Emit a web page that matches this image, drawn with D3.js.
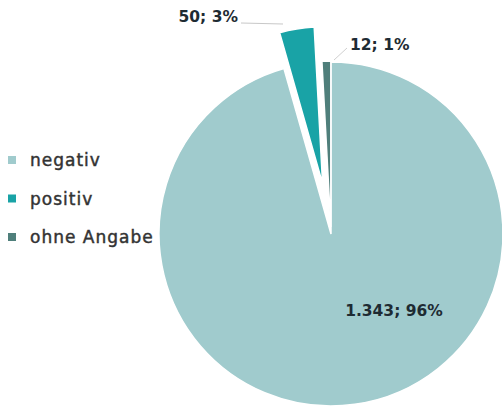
<!DOCTYPE html>
<html>
<head>
<meta charset="utf-8">
<script src="https://cdn.jsdelivr.net/npm/d3@7"></script>
<style>
  body { margin: 0; background: #fff; }
  svg { display: block; }
</style>
</head>
<body>
<div id="plot"></div>
<script>
// data
const categories = ["negativ", "positiv", "ohne Angabe"];
const values = [1343, 50, 12];
const labels = ["1.343; 96%", "50; 3%", "12; 1%"];
const colors = ["#a0cbcd", "#19a3a6", "#4f7f7b"];

const width = 502, height = 408;
const cx = 331, cy = 234;

// per slice look (explode distance, radius)
const explode = [0, 51, 7];
const radius = [172, 157, 166];

const svg = d3.select("#plot")
    .append("svg")
    .attr("width", width)
    .attr("height", height)
    .attr("viewBox", `0 0 ${width} ${height}`);

const pie = d3.pie().sort(null).value(d => d);
const arcs = pie(values);

const pieG = svg.append("g")
    .attr("transform", `translate(${cx},${cy})`);

pieG.selectAll("path")
    .data(arcs)
    .join("path")
    .attr("fill", (d, i) => colors[i])
    .attr("stroke", "#fff")
    .attr("stroke-width", 1.5)
    .attr("transform", (d, i) => {
        const a = (d.startAngle + d.endAngle) / 2;
        return `translate(${Math.sin(a) * explode[i]},${-Math.cos(a) * explode[i]})`;
    })
    .attr("d", (d, i) => d3.arc().innerRadius(0).outerRadius(radius[i])(d));

// data labels
const labelPos = [
    {x: 63, y: 77, anchor: "middle"},
    {x: -93, y: -217, anchor: "end"},
    {x: 19, y: -189, anchor: "start"}
];

pieG.selectAll("text.lbl")
    .data(arcs)
    .join("text")
    .attr("class", "lbl")
    .attr("x", (d, i) => labelPos[i].x)
    .attr("y", (d, i) => labelPos[i].y)
    .attr("text-anchor", (d, i) => labelPos[i].anchor)
    .attr("dominant-baseline", "central")
    .attr("font-family", "DejaVu Sans, sans-serif")
    .attr("font-size", 15.5)
    .attr("font-weight", 700)
    .attr("fill", "#1e2b33")
    .text((d, i) => labels[i]);

// leader lines
pieG.append("line")
    .attr("x1", -90).attr("y1", -211)
    .attr("x2", -48).attr("y2", -210)
    .attr("stroke", "#c8c8c8").attr("stroke-width", 1);
pieG.append("line")
    .attr("x1", 16).attr("y1", -186)
    .attr("x2", 3).attr("y2", -174)
    .attr("stroke", "#d0d0d0").attr("stroke-width", 1);

// legend
const legend = svg.append("g")
    .attr("transform", "translate(8,160)");

const item = legend.selectAll("g")
    .data(categories)
    .join("g")
    .attr("transform", (d, i) => `translate(0,${i * 38.5})`);

item.append("rect")
    .attr("x", 0).attr("y", -4)
    .attr("width", 8).attr("height", 8)
    .attr("fill", (d, i) => colors[i]);

item.append("text")
    .attr("x", 22)
    .attr("y", 0)
    .attr("dominant-baseline", "central")
    .attr("font-family", "DejaVu Sans, sans-serif")
    .attr("font-size", 17)
    .attr("letter-spacing", 1)
    .attr("fill", "#333")
    .attr("stroke", "#333")
    .attr("stroke-width", 0.45)
    .text(d => d);
</script>
</body>
</html>
